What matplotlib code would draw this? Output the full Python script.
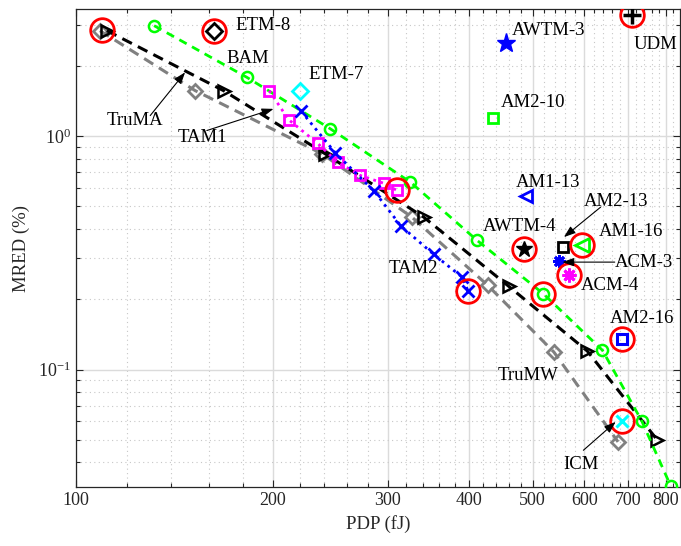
import matplotlib
matplotlib.use('Agg')
import matplotlib.pyplot as plt
from matplotlib.ticker import FixedLocator, NullFormatter, LogLocator, FixedFormatter

plt.rcParams['font.family'] = ['Liberation Serif', 'DejaVu Serif']
plt.rcParams['mathtext.fontset'] = 'custom'
plt.rcParams['mathtext.rm'] = 'Liberation Serif'
plt.rcParams['mathtext.it'] = 'Liberation Serif:italic'

# ---------------- data ----------------
trumw_x = [108.9, 152.3, 238.1, 327.1, 426.8, 538.6, 675.3]
trumw_y = [2.835, 1.569, 0.841, 0.449, 0.2296, 0.119, 0.049]

truma_x = [111.6, 168.3, 240.9, 340.7, 459.7, 606.2, 775.9]
truma_y = [2.835, 1.569, 0.840, 0.450, 0.2273, 0.120, 0.0498]

bam_x = [131.8, 182.7, 245.2, 325.1, 411.2, 518.9, 639.2, 734.0, 813.0]
bam_y = [2.978, 1.789, 1.076, 0.6355, 0.3577, 0.2115, 0.121, 0.0603, 0.0317]

tam1_x = [197.7, 211.6, 234.4, 251.5, 272.5, 295.8, 310.1]
tam1_y = [1.569, 1.179, 0.933, 0.774, 0.679, 0.629, 0.5856]

tam2_x = [221.2, 249.5, 286.3, 314.5, 352.9, 390.0, 398.4]
tam2_y = [1.28, 0.849, 0.58, 0.412, 0.3115, 0.249, 0.2164]

# single designs: (PDP, MRED)
etm8 = (162.5, 2.835)
etm7 = (220.0, 1.569)
awtm3 = (455.5, 2.50)
udm = (710.4, 3.319)
am2_10 = (435.1, 1.199)
am1_13 = (487.6, 0.557)
awtm4 = (484.8, 0.3296)
am2_13 = (556.0, 0.3347)
am1_16 = (595.7, 0.3404)
acm3 = (548.3, 0.2916)
acm4 = (568.0, 0.2533)
am2_16 = (684.2, 0.1348)
icm = (685.8, 0.0603)

# highlighted (red circled) designs
hl_x = [109.6, etm8[0], 310.1, 398.4, awtm4[0], 518.9, am1_16[0], acm4[0], am2_16[0], icm[0], udm[0]]
hl_y = [2.855, etm8[1], 0.5856, 0.2164, awtm4[1], 0.2115, am1_16[1], acm4[1], am2_16[1], icm[1], udm[1]]

# labels: text, x, y
labels = [
    ("ETM-8", 175.4, 2.978), ("BAM", 170.3, 2.151), ("ETM-7", 227.1, 1.837),
    ("TruMA", 111.6, 1.167), ("TAM1", 143.4, 0.987), ("AWTM-3", 465.3, 2.835),
    ("UDM", 713.6, 2.47), ("AM2-10", 446.4, 1.394), ("AM1-13", 471.9, 0.6334),
    ("AM2-13", 599.0, 0.5255), ("AWTM-4", 420.0, 0.4106), ("AM1-16", 631.3, 0.3908),
    ("ACM-3", 667.5, 0.2866), ("ACM-4", 592.1, 0.2296), ("TAM2", 301.1, 0.2715),
    ("AM2-16", 656.4, 0.1658), ("TruMW", 441.2, 0.0945), ("ICM", 557.0, 0.0393),
]
# arrows: (from x, from y) -> (to x, to y)
arrows = [
    ((130.0, 1.226), (147.0, 1.879)),
    ((158.7, 1.058), (200.7, 1.31)),
    ((635.1, 0.4967), (558.1, 0.3696)),
    ((667.5, 0.2888), (555.0, 0.2888)),
    ((597.7, 0.0451), (669.8, 0.0597)),
]

xticks = [100, 200, 300, 400, 500, 600, 700, 800]
xminor = list(range(120, 840, 20))

# ---------------- figure ----------------
W, H = 681, 546
fig = plt.figure(figsize=(W / 100, H / 100), dpi=100)
ax = fig.add_axes([75.7 / W, (H - 487.3) / H, (680 - 75.7) / W, (487.3 - 9.3) / H])
ax.set_xscale('log')
ax.set_yscale('log')

gray = (0.5, 0.5, 0.5)
green = (0, 1, 0)
magenta = (1, 0, 1)
cyan = (0, 1, 1)
blue = (0, 0, 1)

ax.plot(trumw_x, trumw_y, color=gray, lw=2.2, dashes=(3.5, 2.2), marker='D', ms=7,
        mfc='none', mec=gray, mew=2, zorder=3)
ax.plot(truma_x, truma_y, color='k', lw=2.2, dashes=(3.5, 2.2), marker='>', ms=9,
        mfc='none', mec='k', mew=1.8, zorder=3)
ax.plot(bam_x, bam_y, color=green, lw=2.0, dashes=(3.0, 2.2), marker='o', ms=8,
        mfc='none', mec=green, mew=1.8, zorder=3)
ax.plot(tam1_x, tam1_y, color=magenta, lw=2.0, ls=':', marker='s', ms=7,
        mfc='none', mec=magenta, mew=2, zorder=4)
ax.plot(tam2_x, tam2_y, color=blue, lw=2.0, ls=':', marker='x', ms=9,
        mec=blue, mew=2, zorder=4)

ax.plot(*etm8, ls='none', marker='D', ms=8, mfc='none', mec='k', mew=2, zorder=5)
ax.plot(*etm7, ls='none', marker='D', ms=8, mfc='none', mec=cyan, mew=2, zorder=5)
ax.plot(*awtm3, ls='none', marker='*', ms=14, mfc=blue, mec=blue, zorder=5)
ax.plot(*udm, ls='none', marker='+', ms=13, mec='k', mew=2.5, zorder=5)
ax.plot(*am2_10, ls='none', marker='s', ms=7, mfc='none', mec=green, mew=2, zorder=5)
ax.plot(*am1_13, ls='none', marker='<', ms=9, mfc='none', mec=blue, mew=2, zorder=5)
ax.plot(*awtm4, ls='none', marker='*', ms=12, mfc='k', mec='k', zorder=5)
ax.plot(*am2_13, ls='none', marker='s', ms=7, mfc='none', mec='k', mew=2, zorder=5)
ax.plot(*am1_16, ls='none', marker='<', ms=10, mfc='none', mec=green, mew=2, zorder=5)
ax.plot(*acm3, ls='none', marker=(8, 2, 0), ms=9, mec=blue, mew=2, zorder=5)
ax.plot(*acm4, ls='none', marker=(8, 2, 0), ms=10, mec=magenta, mew=2, zorder=5)
ax.plot(*am2_16, ls='none', marker='s', ms=7, mfc='none', mec=blue, mew=2.2, zorder=5)
ax.plot(*icm, ls='none', marker='x', ms=9, mec=cyan, mew=2.2, zorder=5)

ax.plot(hl_x, hl_y, ls='none', marker='o', ms=17, mfc='none', mec='r', mew=2, zorder=6)

for t, x, y in labels:
    ax.text(x, y, t, fontsize=13.5, ha='left', va='center', color='k', zorder=7)
for (x0, y0), (x1, y1) in arrows:
    ax.annotate('', xy=(x1, y1), xytext=(x0, y0),
                arrowprops=dict(arrowstyle='-|>,head_length=0.7,head_width=0.25',
                                color='k', lw=0.8, shrinkA=0, shrinkB=0), zorder=7)

ax.set_xlim(100, 840)
ax.set_ylim(0.0313, 3.5)

ax.xaxis.set_major_locator(FixedLocator(xticks))
ax.xaxis.set_minor_locator(FixedLocator(xminor))
ax.xaxis.set_major_formatter(FixedFormatter([str(v) for v in xticks]))
ax.xaxis.set_minor_formatter(NullFormatter())
ax.yaxis.set_major_locator(LogLocator(base=10, numticks=10))
ax.yaxis.set_minor_locator(LogLocator(base=10, subs=[2, 3, 4, 5, 6, 7, 8, 9], numticks=10))
ax.yaxis.set_minor_formatter(NullFormatter())

axc = (0.15, 0.15, 0.15)
ax.grid(True, which='major', color=(0.86, 0.86, 0.86), lw=1.0, ls='-')
ax.grid(True, which='minor', color=(0.78, 0.78, 0.78), lw=0.8, ls=(0, (1, 3)))
ax.set_axisbelow(True)
ax.tick_params(which='both', direction='in', top=True, right=True, colors=axc,
               labelsize=13, labelcolor=axc)
ax.tick_params(which='major', length=5, width=0.8)
ax.tick_params(which='minor', length=3, width=0.8)
for s in ax.spines.values():
    s.set_color(axc)
    s.set_linewidth(0.9)

ax.set_xlabel('PDP (fJ)', fontsize=13.5, color=axc, labelpad=4)
ax.set_ylabel('MRED (%)', fontsize=13.5, color=axc, labelpad=6)

fig.savefig('out.png', dpi=100)
